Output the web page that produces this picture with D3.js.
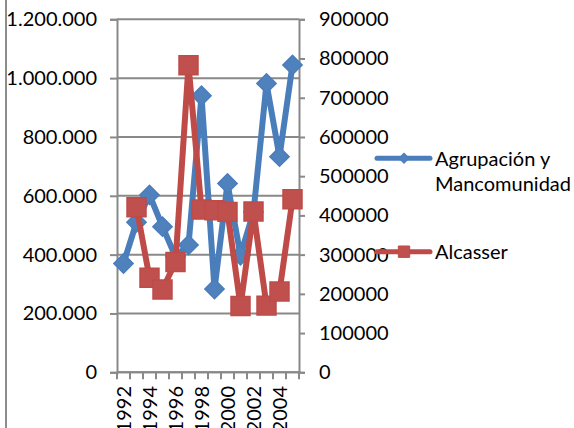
<!DOCTYPE html>
<html>
<head>
<meta charset="utf-8">
<script src="https://cdn.jsdelivr.net/npm/d3@7"></script>
<style>
  html, body { margin: 0; padding: 0; background: #fff; }
  svg { display: block; }
  text { font-family: Lato, "Open Sans", sans-serif; fill: #000; }
</style>
</head>
<body>
<svg id="chart" width="574" height="428"></svg>
<script>
// Years on the category axis
const years = ["1992","1993","1994","1995","1996","1997","1998","1999","2000","2001","2002","2003","2004","2005"];
// Every other year carries a label
const yearLabels = ["1992","1994","1996","1998","2000","2002","2004"];
// Primary axis series
const agrupacion = [370000, 510000, 603000, 495000, 393000, 433000, 940000, 283000, 642000, 398000, 545000, 982000, 733000, 1045000];
// Secondary axis series (no value for 1992)
const alcasser = [null, 421000, 241000, 211000, 281000, 783000, 415000, 413000, 409000, 169000, 410000, 170000, 206000, 441000];
// Axis ticks
const leftTicks = [0, 200000, 400000, 600000, 800000, 1000000, 1200000];
const rightTicks = [0, 100000, 200000, 300000, 400000, 500000, 600000, 700000, 800000, 900000];
const seriesNames = ["Agrupación y Mancomunidad", "Alcasser"];

const svg = d3.select("#chart");
const plot = { left: 117, right: 299, top: 19.3, bottom: 372.3 };
const gridColor = "#898989";
const blueLine = "#4A7EBB", blueFill = "#4F81BD";
const redLine = "#BE4B48", redFill = "#C0504D";
const fontSize = 20;

const x = d3.scaleBand().domain(years).range([plot.left, plot.right]).padding(0);
const yL = d3.scaleLinear().domain([0, 1200000]).range([plot.bottom, plot.top]);
const yR = d3.scaleLinear().domain([0, 900000]).range([plot.bottom, plot.top]);

const dotLocale = d3.formatLocale({ decimal: ",", thousands: ".", grouping: [3], currency: ["", "€"] });
const fmtLeft = dotLocale.format(",d");
const fmtRight = d3.format("d");

// Outer frame edge on the left
svg.append("line")
  .attr("x1", 6).attr("x2", 6).attr("y1", 0).attr("y2", 428)
  .attr("stroke", "#8c8c8c").attr("stroke-width", 2);

// Horizontal gridlines from the primary axis
svg.append("g").selectAll("line").data(leftTicks).join("line")
  .attr("x1", plot.left).attr("x2", plot.right)
  .attr("y1", d => yL(d)).attr("y2", d => yL(d))
  .attr("stroke", gridColor).attr("stroke-width", 2);

// Primary (left) axis
const gL = svg.append("g").attr("transform", `translate(${plot.left},0)`)
  .call(d3.axisLeft(yL).tickValues(leftTicks).tickFormat(fmtLeft).tickSize(7).tickPadding(13));
gL.select(".domain").attr("stroke", gridColor).attr("stroke-width", 2);
gL.selectAll(".tick line").attr("stroke", gridColor).attr("stroke-width", 2);
gL.selectAll("text").attr("font-size", fontSize).attr("font-family", "Lato, 'Open Sans', sans-serif").attr("fill", "#000");

// Secondary (right) axis
const gR = svg.append("g").attr("transform", `translate(${plot.right},0)`)
  .call(d3.axisRight(yR).tickValues(rightTicks).tickFormat(fmtRight).tickSize(6).tickPadding(14));
gR.select(".domain").attr("stroke", gridColor).attr("stroke-width", 2);
gR.selectAll(".tick line").attr("stroke", gridColor).attr("stroke-width", 2);
gR.selectAll("text").attr("font-size", fontSize).attr("font-family", "Lato, 'Open Sans', sans-serif").attr("fill", "#000");

// Category axis baseline and tick marks at band edges
svg.append("line")
  .attr("x1", plot.left).attr("x2", plot.right)
  .attr("y1", plot.bottom).attr("y2", plot.bottom)
  .attr("stroke", gridColor).attr("stroke-width", 2);
const edges = years.map(y => x(y)).concat([x(years[years.length - 1]) + x.bandwidth()]);
svg.append("g").selectAll("line").data(edges).join("line")
  .attr("x1", d => d).attr("x2", d => d)
  .attr("y1", plot.bottom).attr("y2", plot.bottom + 7)
  .attr("stroke", gridColor).attr("stroke-width", 2);

// Rotated year labels
svg.append("g").selectAll("text").data(yearLabels).join("text")
  .attr("transform", d => `translate(${x(d) + x.bandwidth() / 2},386) rotate(-90)`)
  .attr("text-anchor", "end")
  .attr("dy", "0.36em")
  .attr("font-size", fontSize)
  .text(d => d);

// Series lines and markers
const diamond = d3.symbol(d3.symbolSquare).size(185);
const square = d3.symbol(d3.symbolSquare).size(360);

function drawSeries(values, yScale, lineColor, fillColor, sym, rot) {
  const pts = years.map((yr, i) => ({ yr, v: values[i] })).filter(p => p.v !== null);
  const line = d3.line()
    .x(p => x(p.yr) + x.bandwidth() / 2)
    .y(p => yScale(p.v));
  svg.append("path").datum(pts)
    .attr("d", line)
    .attr("fill", "none")
    .attr("stroke", lineColor)
    .attr("stroke-width", 6)
    .attr("stroke-linejoin", "round")
    .attr("stroke-linecap", "round");
  svg.append("g").selectAll("path").data(pts).join("path")
    .attr("d", sym)
    .attr("transform", p => `translate(${x(p.yr) + x.bandwidth() / 2},${yScale(p.v)}) rotate(${rot})`)
    .attr("fill", fillColor)
    .attr("stroke", lineColor)
    .attr("stroke-width", 1.5);
}

drawSeries(agrupacion, yL, blueLine, blueFill, diamond, 45);
drawSeries(alcasser, yR, redLine, redFill, square, 0);

// Legend
const legend = svg.append("g");
const legendItems = [
  { name: seriesNames[0], lines: ["Agrupación y", "Mancomunidad"], y: 158.3, color: blueLine, fill: blueFill, sym: d3.symbol(d3.symbolSquare).size(50), rot: 45 },
  { name: seriesNames[1], lines: ["Alcasser"], y: 251.7, color: redLine, fill: redFill, sym: d3.symbol(d3.symbolSquare).size(130), rot: 0 }
];
legendItems.forEach(item => {
  legend.append("line")
    .attr("x1", 377).attr("x2", 430)
    .attr("y1", item.y).attr("y2", item.y)
    .attr("stroke", item.color).attr("stroke-width", 5)
    .attr("stroke-linecap", "round");
  legend.append("path")
    .attr("d", item.sym)
    .attr("transform", `translate(404,${item.y}) rotate(${item.rot})`)
    .attr("fill", item.fill).attr("stroke", item.color).attr("stroke-width", 1);
  const t = legend.append("text")
    .attr("x", 435).attr("y", item.y)
    .attr("font-size", fontSize);
  item.lines.forEach((ln, i) => {
    t.append("tspan").attr("x", 435).attr("dy", i === 0 ? "0.36em" : 25.3).text(ln);
  });
});
</script>
</body>
</html>
